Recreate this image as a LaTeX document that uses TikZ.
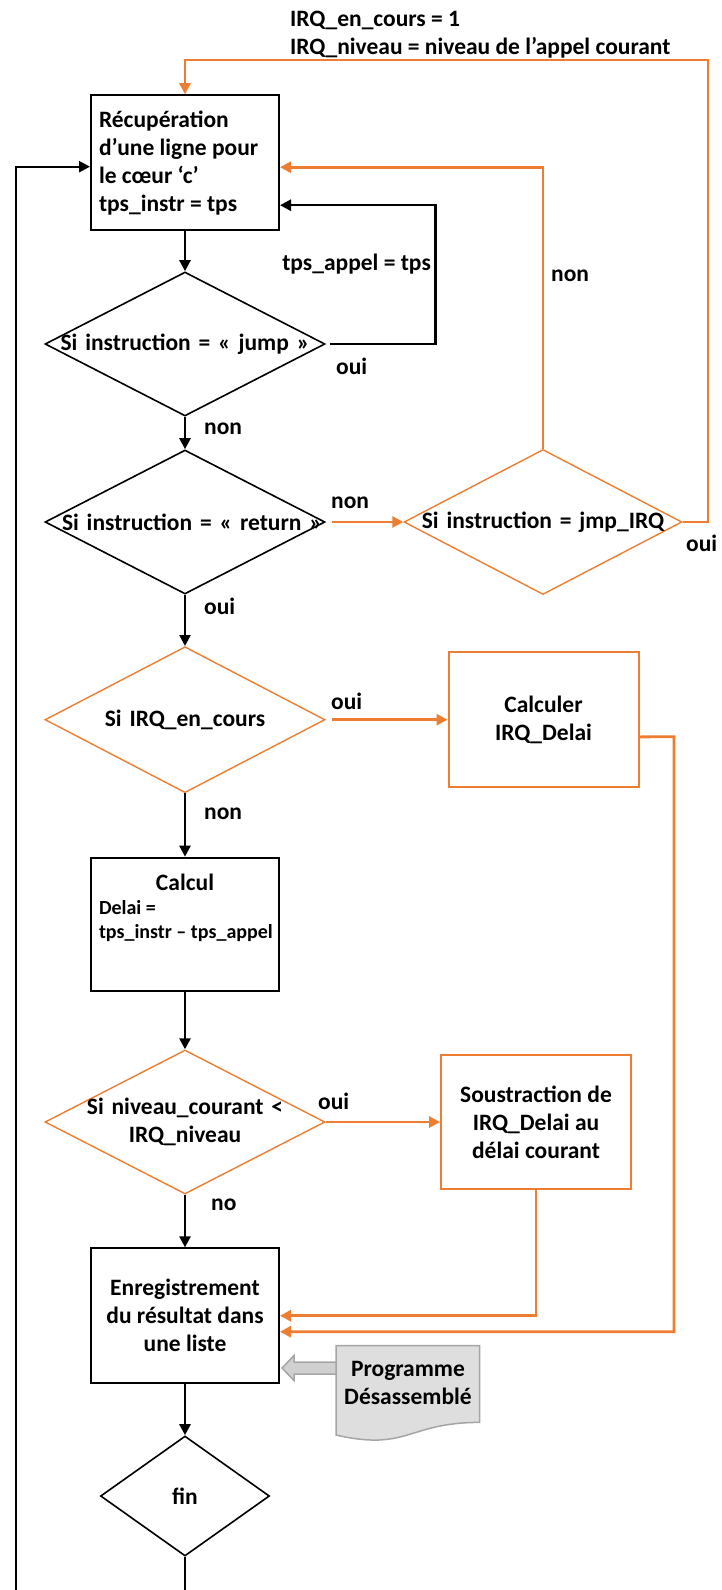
\documentclass[tikz,border=0pt]{standalone}
\usepackage{fontspec}
\setmainfont{Carlito}
\usetikzlibrary{shapes.geometric,arrows.meta}
\definecolor{orng}{HTML}{ED7D31}
\definecolor{docgray}{HTML}{DEDEDE}
\definecolor{docline}{HTML}{A5A5A5}
\definecolor{feedgray}{HTML}{D0D0D0}
% zero-width centred line, so a decision shape keeps its own size
\newcommand\zbox[1]{\makebox[0pt]{#1}}
\begin{document}
\begin{tikzpicture}[x=1pt,y=-1pt,
  every node/.style={font=\bfseries\fontsize{23.5}{28}\selectfont},
  procbox/.style={draw, line width=2pt, minimum width=188pt, minimum height=135pt, inner sep=0pt, align=center},
  oprocbox/.style={procbox, draw=orng},
  test/.style={diamond, draw, line width=1.6pt, inner sep=0pt, text width=0pt, align=center, minimum width=280pt, minimum height=144pt},
  otest/.style={test, draw=orng, line width=1.4pt},
  flow/.style={line width=2.4pt, -{Triangle[length=11pt,width=11pt]}},
  oflow/.style={flow, draw=orng, line width=2.8pt},
  tag/.style={inner sep=0pt, anchor=west},
  feed/.style={fill=feedgray, draw=docline, line width=1.5pt},
]
\useasboundingbox (0,0) rectangle (721,1590);
\clip (0,0) rectangle (721,1590);

% ---- steps and decisions ----
\node[procbox, text width=172pt, align=flush left, inner xsep=8pt] (rec) at (185,162.7)
  {Récupération\\d’une ligne pour\\le cœur ‘c’\\tps\_instr = tps};
\node[test] (jump) at (185,344) {\zbox{Si instruction = « jump »}};
\node[test] (ret) at (185,522) {\zbox{\hspace*{14pt}Si instruction = « return »}};
\node[otest, minimum width=278pt, minimum height=145pt] (jmp) at (543,522) {\zbox{Si instruction = jmp\_IRQ}};
\node[otest, minimum height=146pt] (irq) at (185,719.7) {\zbox{Si IRQ\_en\_cours}};
\node[oprocbox, minimum width=190pt, minimum height=134.5pt] (calcr) at (543.5,719.7) {Calculer\\IRQ\_Delai};
\node[procbox, text width=172pt, align=flush left, inner xsep=8pt, minimum height=133pt] (calc) at (185,924.2)
  {\makebox[172pt]{Calcul}\par\fontsize{20}{24}\selectfont Delai =\\\mbox{tps\_instr – tps\_appel}\\[8pt]\mbox{}};
\node[otest] (niv) at (185,1122) {\zbox{Si niveau\_courant <}\\\zbox{IRQ\_niveau}};
\node[oprocbox, minimum width=190pt, minimum height=134.7pt] (sous) at (536,1122)
  {Soustraction de\\IRQ\_Delai au\\délai courant};
\node[procbox, minimum height=134.7pt] (enr) at (185,1315.7)
  {Enregistrement\\du résultat dans\\une liste};
\node[test, minimum width=169pt, minimum height=120pt] (fin) at (185,1496) {\zbox{fin}};

% ---- disassembled program (document symbol) feeding the list ----
\path ([xshift=2pt,yshift=-52.3pt]enr.east) coordinate (fbtip);
\filldraw[feed] (fbtip) -- ++(12,-12.5) -- ++(0,6.5) -- ++(43.4,0) -- ++(0,12)
  -- ++(-43.4,0) -- ++(0,6.5) -- cycle;
\filldraw[fill=docgray, draw=docline, line width=1.5pt]
  (336,1345.7) -- (479.5,1345.7) -- (479.5,1422.4)
  .. controls (407.75,1422.4) and (407.75,1451.5) .. (336,1435) -- cycle;
\node[align=center] (doc) at (408,1383) {Programme\\Désassemblé};

% ---- connectors ----
\coordinate (jback) at (435.5,344);
\coordinate (ctop) at (708,60);
\coordinate (cright) at (674,736.7);
\coordinate (loopc) at (16,1620);

\draw[flow] (rec) -- (jump);
\draw[flow] ([xshift=4pt]jump.east) -- (jback) |- ([yshift=-42.5pt]rec.east);
\draw[oflow] (jmp.north) |- ([yshift=-4.5pt]rec.east);
\draw[oflow] ([xshift=6pt]ret.east) -- (jmp.west);
\draw[oflow] (jmp.east) -| (ctop) -| (rec.north);
\draw[flow] (jump) -- (ret);
\draw[flow] (ret) -- (irq);
\draw[oflow] ([xshift=6pt]irq.east) -- (calcr.west);
\draw[flow] (irq) -- (calc);
\draw[oflow] ([yshift=-17.2pt]calcr.east) -- (cright) |- ([yshift=-16pt]enr.east);
\draw[flow] (calc) -- (niv);
\draw[oflow] (niv.east) -- (sous.west);
\draw[flow] (niv) -- (enr);
\draw[oflow] (sous.south) |- (enr.east);
\draw[flow] (enr) -- (fin);
\draw[flow] (fin.south) |- (loopc) |- ([yshift=-4pt]rec.west);

% ---- branch labels ----
\node[tag, align=left] (irqset) at (290,34.5) {IRQ\_en\_cours = 1\\IRQ\_niveau = niveau de l’appel courant};
\node[inner sep=0pt, anchor=east] (tpsappel) at (431,264) {tps\_appel = tps};
\node[tag] (l1) at (336,366.7) {oui};
\node[tag] (l2) at (204,429) {non};
\node[tag] (l3) at (551,275.7) {non};
\node[tag] (l4) at (331,503) {non};
\node[tag] (l5) at (686,543.3) {oui};
\node[tag] (l6) at (204,606.7) {oui};
\node[tag] (l7) at (331,701) {oui};
\node[tag] (l8) at (204,814) {non};
\node[tag] (l9) at (318,1101.7) {oui};
\node[tag] (l10) at (211,1205) {no};
\end{tikzpicture}
\end{document}
